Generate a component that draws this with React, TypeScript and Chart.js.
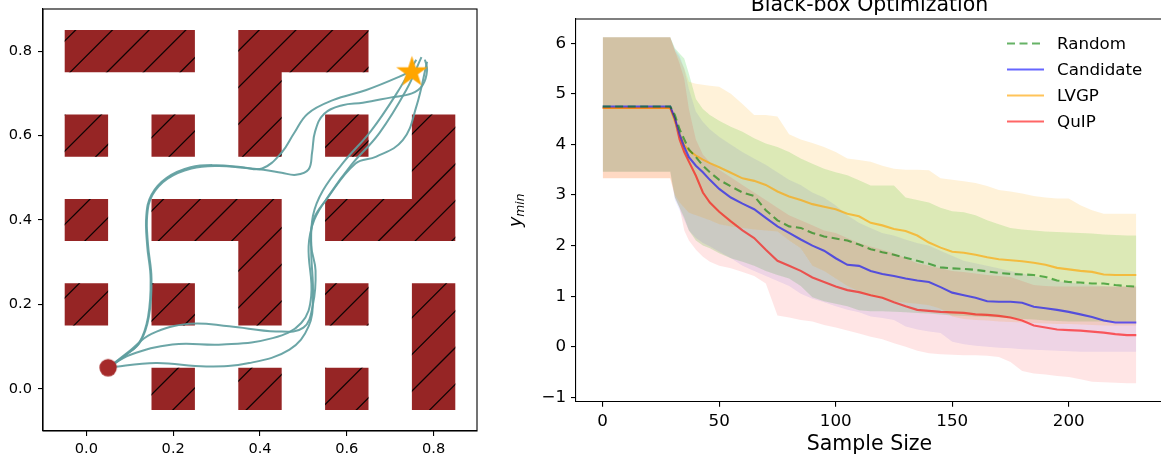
import React, { useEffect, useRef } from "react";
import { Chart, registerables } from "chart.js";
Chart.register(...registerables);

// ---------------- Maze panel data ----------------
const mazeTicks = [0, 0.2, 0.4, 0.6, 0.8];
const wallX = [0, 0.1, 0.2, 0.4, 0.5, 0.6, 0.4, 0, 0.2, 0.4, 0.6, 0.8, 0.8, 0, 0.2, 0.3, 0.4, 0.6, 0.7, 0.8, 0.4, 0, 0.2, 0.4, 0.6, 0.8, 0.8, 0.2, 0.4, 0.6, 0.8];
const wallY = [0.8, 0.8, 0.8, 0.8, 0.8, 0.8, 0.7, 0.6, 0.6, 0.6, 0.6, 0.6, 0.5, 0.4, 0.4, 0.4, 0.4, 0.4, 0.4, 0.4, 0.3, 0.2, 0.2, 0.2, 0.2, 0.2, 0.1, 0, 0, 0, 0];

const traj1X = [0.05, 0.09, 0.122, 0.142, 0.148, 0.14, 0.138, 0.15, 0.185, 0.24, 0.3, 0.36, 0.405, 0.45, 0.478, 0.51, 0.568, 0.645, 0.72, 0.75];
const traj1Y = [0.05, 0.08, 0.11, 0.17, 0.26, 0.34, 0.41, 0.46, 0.5, 0.525, 0.53, 0.525, 0.522, 0.56, 0.605, 0.652, 0.684, 0.708, 0.739, 0.755];
const traj2X = [0.05, 0.092, 0.124, 0.144, 0.15, 0.142, 0.14, 0.152, 0.187, 0.242, 0.302, 0.361, 0.408, 0.45, 0.483, 0.512, 0.52, 0.527, 0.548, 0.59, 0.637, 0.7, 0.75, 0.775, 0.785, 0.78];
const traj2Y = [0.05, 0.081, 0.111, 0.171, 0.261, 0.341, 0.41, 0.459, 0.498, 0.522, 0.528, 0.524, 0.519, 0.512, 0.507, 0.52, 0.56, 0.61, 0.652, 0.672, 0.678, 0.69, 0.7, 0.72, 0.755, 0.78];
const traj3X = [0.05, 0.1, 0.15, 0.237, 0.329, 0.437, 0.5, 0.522, 0.528, 0.518, 0.523, 0.552, 0.62, 0.668, 0.729, 0.76, 0.785];
const traj3Y = [0.05, 0.09, 0.13, 0.154, 0.148, 0.136, 0.145, 0.2, 0.28, 0.34, 0.4, 0.447, 0.534, 0.55, 0.589, 0.668, 0.775];
const traj4X = [0.05, 0.1, 0.198, 0.314, 0.429, 0.495, 0.518, 0.512, 0.525, 0.56, 0.61, 0.675, 0.737, 0.772];
const traj4Y = [0.05, 0.08, 0.105, 0.105, 0.12, 0.156, 0.22, 0.337, 0.4, 0.46, 0.53, 0.606, 0.708, 0.786];
const traj5X = [0.05, 0.16, 0.276, 0.375, 0.468, 0.512, 0.522, 0.518, 0.522, 0.545, 0.595, 0.655, 0.715, 0.76];
const traj5Y = [0.05, 0.061, 0.053, 0.061, 0.093, 0.148, 0.22, 0.33, 0.41, 0.47, 0.54, 0.61, 0.7, 0.78];
const startX = [0.05];
const startY = [0.05];
const goalX = [0.75];
const goalY = [0.75];

// ---------------- Optimization panel data ----------------
const chartTitle = "Black-box Optimization";
const xAxisTitle = "Sample Size";
const seriesLabels = ["Random", "Candidate", "LVGP", "QuIP"];
const xTicksRight = [0, 50, 100, 150, 200];
const yTicksRight = [-1, 0, 1, 2, 3, 4, 5, 6];
const sampleSize = [0, 29, 31, 33, 35, 37, 40, 43, 46, 50, 55, 60, 65, 70, 75, 80, 85, 90, 95, 100, 105, 110, 115, 120, 125, 130, 135, 140, 145, 150, 155, 160, 165, 170, 175, 180, 185, 190, 195, 200, 205, 210, 215, 220, 225, 229];

const randomMean = [4.75, 4.75, 4.58, 4.3, 4.1, 3.9, 3.75, 3.58, 3.45, 3.3, 3.17, 3.05, 2.98, 2.7, 2.5, 2.38, 2.35, 2.25, 2.18, 2.14, 2.1, 2.02, 1.93, 1.87, 1.82, 1.76, 1.7, 1.64, 1.57, 1.55, 1.54, 1.52, 1.49, 1.46, 1.44, 1.43, 1.42, 1.38, 1.31, 1.28, 1.27, 1.25, 1.25, 1.22, 1.2, 1.19];
const candidateMean = [4.75, 4.75, 4.51, 4.2, 3.95, 3.75, 3.58, 3.45, 3.3, 3.12, 2.95, 2.83, 2.72, 2.55, 2.38, 2.25, 2.12, 2.0, 1.9, 1.75, 1.62, 1.6, 1.5, 1.44, 1.4, 1.35, 1.31, 1.28, 1.18, 1.07, 1.02, 0.97, 0.9, 0.89, 0.89, 0.87, 0.79, 0.76, 0.73, 0.69, 0.64, 0.59, 0.52, 0.48, 0.48, 0.48];
const lvgpMean = [4.72, 4.72, 4.45, 4.2, 3.99, 3.88, 3.78, 3.7, 3.63, 3.55, 3.44, 3.33, 3.28, 3.2, 3.07, 2.97, 2.9, 2.82, 2.77, 2.72, 2.63, 2.58, 2.45, 2.4, 2.33, 2.29, 2.2, 2.06, 1.96, 1.88, 1.86, 1.82, 1.77, 1.73, 1.71, 1.69, 1.66, 1.62, 1.56, 1.53, 1.5, 1.48, 1.43, 1.42, 1.42, 1.42];
const quipMean = [4.72, 4.72, 4.5, 4.1, 3.85, 3.66, 3.38, 3.05, 2.85, 2.67, 2.48, 2.3, 2.15, 1.92, 1.7, 1.6, 1.5, 1.37, 1.28, 1.19, 1.12, 1.08, 1.02, 0.97, 0.88, 0.8, 0.73, 0.71, 0.69, 0.68, 0.67, 0.64, 0.63, 0.61, 0.58, 0.52, 0.42, 0.38, 0.34, 0.33, 0.32, 0.3, 0.28, 0.25, 0.23, 0.23];

const randomUpper = [6.12, 6.12, 5.9, 5.8, 5.7, 5.4, 4.9, 4.7, 4.58, 4.47, 4.35, 4.25, 4.12, 4.02, 3.95, 3.85, 3.72, 3.62, 3.52, 3.45, 3.39, 3.29, 3.19, 3.19, 3.19, 2.95, 2.9, 2.85, 2.75, 2.68, 2.66, 2.6, 2.5, 2.42, 2.35, 2.32, 2.3, 2.28, 2.27, 2.26, 2.25, 2.24, 2.22, 2.21, 2.2, 2.2];
const randomLower = [3.46, 3.46, 2.95, 2.75, 2.55, 2.3, 2.1, 2.0, 1.95, 1.85, 1.75, 1.68, 1.6, 1.5, 1.42, 1.35, 1.2, 0.98, 0.9, 0.85, 0.8, 0.72, 0.7, 0.7, 0.69, 0.68, 0.67, 0.66, 0.64, 0.62, 0.61, 0.6, 0.59, 0.58, 0.56, 0.55, 0.54, 0.52, 0.51, 0.5, 0.5, 0.5, 0.5, 0.5, 0.5, 0.5];
const candidateUpper = [6.12, 6.12, 5.88, 5.75, 5.5, 5.1, 4.65, 4.45, 4.3, 4.15, 4.0, 3.85, 3.72, 3.6, 3.45, 3.3, 3.2, 3.05, 2.95, 2.8, 2.6, 2.45, 2.35, 2.25, 2.2, 2.12, 2.05, 2.0, 1.9, 1.8, 1.7, 1.65, 1.6, 1.55, 1.5, 1.45, 1.4, 1.35, 1.3, 1.27, 1.25, 1.22, 1.2, 1.19, 1.19, 1.19];
const candidateLower = [3.46, 3.46, 2.9, 2.7, 2.5, 2.3, 2.15, 2.05, 1.98, 1.88, 1.75, 1.6, 1.5, 1.4, 1.3, 1.2, 1.05, 0.95, 0.88, 0.8, 0.73, 0.68, 0.6, 0.57, 0.53, 0.4, 0.34, 0.3, 0.27, 0.1, 0.05, 0.02, 0.0, -0.02, -0.03, -0.05, -0.06, -0.07, -0.08, -0.09, -0.1, -0.1, -0.1, -0.1, -0.1, -0.1];
const lvgpUpper = [6.12, 6.12, 5.85, 5.7, 5.5, 5.24, 5.2, 5.18, 5.16, 5.14, 5.0, 4.8, 4.58, 4.58, 4.55, 4.2, 4.1, 4.03, 3.95, 3.85, 3.72, 3.69, 3.66, 3.58, 3.52, 3.5, 3.5, 3.49, 3.33, 3.3, 3.27, 3.24, 3.18, 3.1, 3.07, 3.03, 2.98, 2.95, 2.93, 2.93, 2.8, 2.7, 2.63, 2.63, 2.63, 2.63];
const lvgpLower = [3.33, 3.33, 3.0, 2.85, 2.75, 2.65, 2.6, 2.55, 2.5, 2.42, 2.38, 2.35, 2.32, 2.3, 2.28, 2.1, 1.95, 1.6, 1.5, 1.35, 1.2, 1.1, 1.0, 0.95, 0.9, 0.87, 0.85, 0.82, 0.75, 0.6, 0.55, 0.53, 0.52, 0.5, 0.49, 0.48, 0.47, 0.46, 0.45, 0.45, 0.44, 0.43, 0.42, 0.42, 0.42, 0.42];
const quipUpper = [6.12, 6.12, 5.85, 5.6, 5.3, 4.7, 4.1, 3.8, 3.65, 3.5, 3.35, 3.2, 3.05, 2.9, 2.75, 2.6, 2.5, 2.4, 2.3, 2.25, 2.15, 2.05, 1.98, 1.92, 1.85, 1.75, 1.65, 1.6, 1.55, 1.5, 1.48, 1.45, 1.42, 1.4, 1.38, 1.3, 1.22, 1.2, 1.19, 1.19, 1.19, 1.19, 1.19, 1.19, 1.19, 1.19];
const quipLower = [3.33, 3.33, 2.95, 2.75, 2.3, 2.1, 1.92, 1.78, 1.68, 1.6, 1.55, 1.48, 1.4, 1.25, 0.62, 0.58, 0.53, 0.5, 0.43, 0.38, 0.32, 0.26, 0.2, 0.15, 0.07, 0.0, -0.08, -0.13, -0.15, -0.16, -0.17, -0.17, -0.18, -0.2, -0.3, -0.48, -0.53, -0.55, -0.58, -0.6, -0.64, -0.69, -0.7, -0.71, -0.72, -0.72];

// ---------------- styling ----------------
const FONT = "'DejaVu Sans', sans-serif";
const WALL_COLOR = "#962525";
const TRAJ_COLOR = "rgba(95,158,160,0.92)";
const CELL = 0.1;

function fixAxis(size: number) {
  return (scale: any) => {
    if (scale.isHorizontal()) scale.height = size;
    else scale.width = size;
    scale.paddingTop = 0;
    scale.paddingBottom = 0;
    scale.paddingLeft = 0;
    scale.paddingRight = 0;
  };
}

function makeStar(r: number, color: string) {
  const c = document.createElement("canvas");
  const size = Math.ceil(r * 2 + 2);
  c.width = size;
  c.height = size;
  const g = c.getContext("2d")!;
  g.beginPath();
  for (let i = 0; i < 10; i++) {
    const a = -Math.PI / 2 + (i * Math.PI) / 5;
    const rr = i % 2 ? r * 0.382 : r;
    g.lineTo(size / 2 + rr * Math.cos(a), size / 2 + rr * Math.sin(a));
  }
  g.closePath();
  g.fillStyle = color;
  g.fill();
  return c;
}

function makeDot(r: number, color: string) {
  const c = document.createElement("canvas");
  const size = Math.ceil(r * 2 + 2);
  c.width = size;
  c.height = size;
  const g = c.getContext("2d")!;
  g.beginPath();
  g.arc(size / 2, size / 2, r, 0, Math.PI * 2);
  g.fillStyle = color;
  g.fill();
  return c;
}

const toPts = (xs: number[], ys: number[]) => xs.map((x, i) => ({ x, y: ys[i] }));

const boxPlugin = {
  id: "box",
  afterDraw(chart: any) {
    const { ctx, chartArea: a } = chart;
    ctx.save();
    ctx.strokeStyle = "#000";
    ctx.lineWidth = 1.1;
    ctx.strokeRect(a.left, a.top, a.right - a.left, a.bottom - a.top);
    ctx.restore();
  },
};

const mazePlugin = {
  id: "maze",
  beforeDatasetsDraw(chart: any) {
    const { ctx, chartArea: a, scales } = chart;
    const xs = scales.x;
    const ys = scales.y;
    ctx.save();
    ctx.beginPath();
    ctx.rect(a.left, a.top, a.right - a.left, a.bottom - a.top);
    ctx.clip();
    const path = new Path2D();
    for (let i = 0; i < wallX.length; i++) {
      const x0 = xs.getPixelForValue(wallX[i] - CELL / 2);
      const x1 = xs.getPixelForValue(wallX[i] + CELL / 2);
      const y0 = ys.getPixelForValue(wallY[i] + CELL / 2);
      const y1 = ys.getPixelForValue(wallY[i] - CELL / 2);
      path.rect(x0, y0, x1 - x0, y1 - y0);
    }
    ctx.fillStyle = WALL_COLOR;
    ctx.fill(path);
    ctx.clip(path);
    const H = chart.height;
    const W = chart.width;
    const s = 36.7;
    let c = 142.4 % s;
    ctx.strokeStyle = "rgba(0,0,0,0.9)";
    ctx.lineWidth = 1.3;
    ctx.beginPath();
    for (; c < W + H + s; c += s) {
      ctx.moveTo(c, 0);
      ctx.lineTo(c - H, H);
    }
    ctx.stroke();
    ctx.restore();
  },
};

const optPlugin = {
  id: "opt",
  afterDraw(chart: any) {
    const { ctx, chartArea: a } = chart;
    ctx.save();
    ctx.strokeStyle = "#000";
    ctx.lineWidth = 1.1;
    ctx.beginPath();
    ctx.moveTo(a.left, a.top);
    ctx.lineTo(a.right, a.top);
    ctx.lineTo(a.right, a.bottom);
    ctx.stroke();
    const cx = (a.left + a.right) / 2;
    ctx.fillStyle = "#000";
    ctx.textAlign = "center";
    ctx.textBaseline = "alphabetic";
    ctx.font = `20.5px ${FONT}`;
    ctx.fillText(chartTitle, cx, 10.5);
    ctx.fillText(xAxisTitle, cx, 450);
    ctx.save();
    ctx.translate(41, (a.top + a.bottom) / 2);
    ctx.rotate(-Math.PI / 2);
    ctx.font = `italic 17.5px ${FONT}`;
    const wy = ctx.measureText("y").width;
    ctx.font = `italic 12.3px ${FONT}`;
    const wm = ctx.measureText("min").width;
    const start = -(wy + wm) / 2;
    ctx.textAlign = "left";
    ctx.font = `italic 17.5px ${FONT}`;
    ctx.fillText("y", start, 0);
    ctx.font = `italic 12.3px ${FONT}`;
    ctx.fillText("min", start + wy, 3);
    ctx.restore();
    const ds = chart.data.datasets;
    ctx.font = `16.7px ${FONT}`;
    ctx.textAlign = "left";
    ctx.textBaseline = "middle";
    for (let i = 0; i < 4; i++) {
      const y = 43.5 + i * 26;
      ctx.strokeStyle = ds[i].borderColor;
      ctx.lineWidth = 2.2;
      ctx.setLineDash(ds[i].borderDash || []);
      ctx.beginPath();
      ctx.moveTo(527, y);
      ctx.lineTo(564, y);
      ctx.stroke();
      ctx.setLineDash([]);
      ctx.fillStyle = "#000";
      ctx.fillText(ds[i].label, 577, y + 1);
    }
    ctx.restore();
  },
};

function axisCommon(fontSize: number, fit: number, ticks: number[], fmt: (v: number) => string, min: number, max: number, pad: number) {
  return {
    type: "linear" as const,
    min,
    max,
    afterBuildTicks: (s: any) => {
      s.ticks = ticks.map((v) => ({ value: v }));
    },
    afterFit: fixAxis(fit),
    ticks: {
      callback: (v: any) => fmt(Number(v)),
      font: { family: FONT, size: fontSize },
      color: "#000",
      padding: pad,
      autoSkip: false,
      maxRotation: 0,
      minRotation: 0,
    },
    grid: { display: true, drawOnChartArea: false, drawTicks: true, tickLength: 5, color: "#000", lineWidth: 1.1 },
    border: { display: true, color: "#000", width: 1.1 },
  };
}

export default function App() {
  const leftRef = useRef<HTMLCanvasElement>(null);
  const rightRef = useRef<HTMLCanvasElement>(null);

  useEffect(() => {
    const star = makeStar(16.5, "#FFA500");
    const dot = makeDot(8.7, "#a52a2a");
    const trajs = [
      [traj1X, traj1Y],
      [traj2X, traj2Y],
      [traj3X, traj3Y],
      [traj4X, traj4Y],
      [traj5X, traj5Y],
    ];
    const leftDatasets: any[] = [
      { type: "scatter", data: toPts(goalX, goalY), pointStyle: star, pointRadius: 1, pointHoverRadius: 1, pointBorderWidth: 0, showLine: false },
      { type: "scatter", data: toPts(startX, startY), pointStyle: dot, pointRadius: 1, pointHoverRadius: 1, pointBorderWidth: 0, showLine: false },
      ...trajs.map(([xs, ys]) => ({
        type: "line",
        data: toPts(xs, ys),
        borderColor: TRAJ_COLOR,
        borderWidth: 2,
        pointRadius: 0,
        pointHoverRadius: 0,
        pointBorderWidth: 0,
        tension: 0.4,
        fill: false,
      })),
    ];
    const left = new Chart(leftRef.current!, {
      type: "scatter",
      data: { datasets: leftDatasets },
      options: {
        animation: false,
        responsive: false,
        maintainAspectRatio: false,
        layout: { padding: { left: 0, top: 9, right: 3, bottom: 0 } },
        plugins: { legend: { display: false }, tooltip: { enabled: false } },
        scales: {
          x: axisCommon(14.6, 26, mazeTicks, (v) => v.toFixed(1), -0.1, 0.9, 4),
          y: axisCommon(14.6, 43, mazeTicks, (v) => v.toFixed(1), -0.1, 0.9, 6),
        },
      } as any,
      plugins: [mazePlugin, boxPlugin],
    });

    const series = [
      { label: seriesLabels[0], mean: randomMean, lo: randomLower, hi: randomUpper, line: "rgba(0,128,0,0.6)", band: "rgba(50,205,50,0.2)", dash: [8, 4.5] },
      { label: seriesLabels[1], mean: candidateMean, lo: candidateLower, hi: candidateUpper, line: "rgba(0,0,255,0.6)", band: "rgba(0,0,255,0.08)", dash: [] },
      { label: seriesLabels[2], mean: lvgpMean, lo: lvgpLower, hi: lvgpUpper, line: "rgba(255,165,0,0.65)", band: "rgba(255,165,0,0.15)", dash: [] },
      { label: seriesLabels[3], mean: quipMean, lo: quipLower, hi: quipUpper, line: "rgba(255,0,0,0.6)", band: "rgba(255,0,0,0.1)", dash: [] },
    ];
    const rightDatasets: any[] = series.map((s) => ({
      label: s.label,
      data: toPts(sampleSize, s.mean),
      borderColor: s.line,
      borderWidth: 2.1,
      borderDash: s.dash,
      pointRadius: 0,
      pointHoverRadius: 0,
      tension: 0,
      fill: false,
    }));
    [...series].reverse().forEach((s) => {
      const loIdx = rightDatasets.length;
      rightDatasets.push({ data: toPts(sampleSize, s.lo), borderColor: "rgba(0,0,0,0)", borderWidth: 1, pointRadius: 0, pointHoverRadius: 0, fill: false, tension: 0 });
      rightDatasets.push({ data: toPts(sampleSize, s.hi), borderColor: "rgba(0,0,0,0)", borderWidth: 1, pointRadius: 0, pointHoverRadius: 0, fill: loIdx, backgroundColor: s.band, tension: 0 });
    });
    const fmtR = (v: number) => (v < 0 ? "\u2212" + Math.abs(v) : String(v));
    const right = new Chart(rightRef.current!, {
      type: "line",
      data: { datasets: rightDatasets },
      options: {
        animation: false,
        responsive: false,
        maintainAspectRatio: false,
        layout: { padding: { left: 0, top: 19, right: 17, bottom: 0 } },
        plugins: { legend: { display: false }, tooltip: { enabled: false } },
        scales: {
          x: axisCommon(16.7, 55.3, xTicksRight, fmtR, -11.45, 240.45, 5),
          y: axisCommon(16.7, 96, yTicksRight, fmtR, -1.086, 6.48, 5),
        },
      } as any,
      plugins: [optPlugin],
    });
    return () => {
      left.destroy();
      right.destroy();
    };
  }, []);

  return (
    <div style={{ position: "fixed", left: 0, top: 0, width: 1161, height: 457, overflow: "hidden", background: "#fff" }}>
      <canvas ref={leftRef} width={480} height={457} style={{ position: "absolute", left: 0, top: 0, width: 480, height: 457 }} />
      <canvas ref={rightRef} width={700} height={457} style={{ position: "absolute", left: 480, top: 0, width: 700, height: 457 }} />
    </div>
  );
}
